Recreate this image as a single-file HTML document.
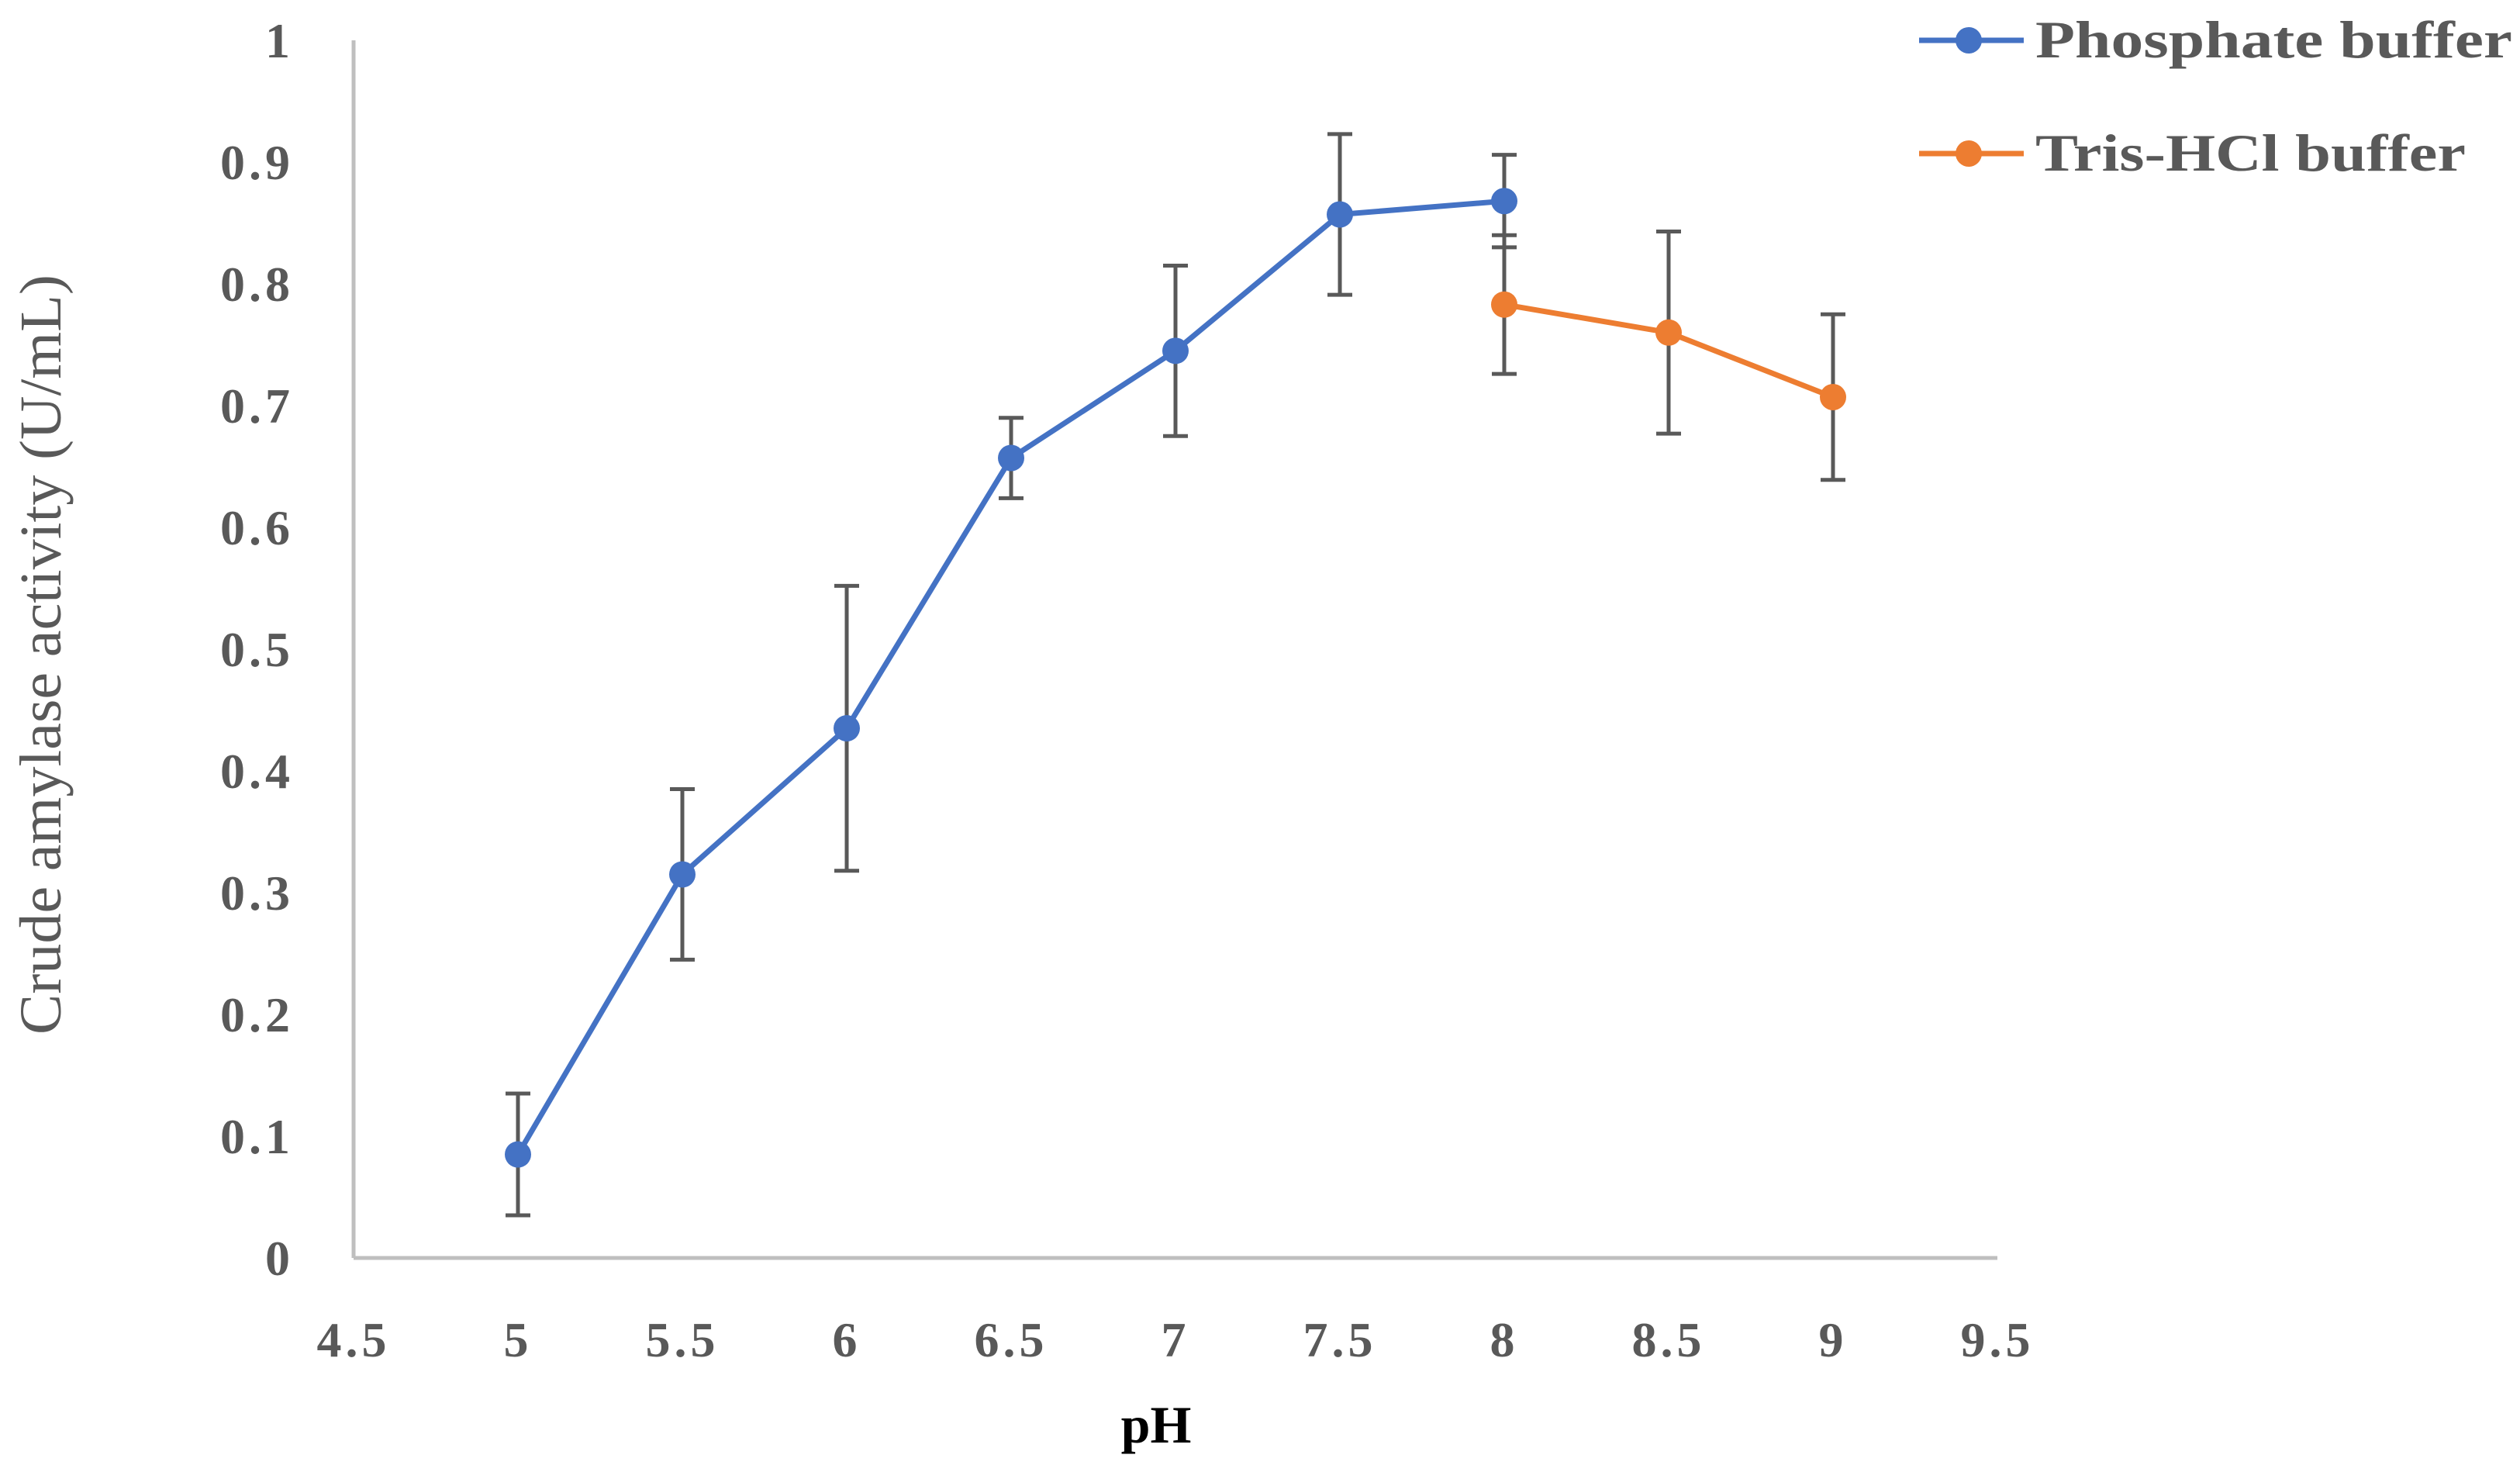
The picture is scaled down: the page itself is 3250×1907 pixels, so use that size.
<!DOCTYPE html>
<html><head><meta charset="utf-8"><style>
html,body{margin:0;padding:0;background:#fff;}
svg{display:block;}
</style></head><body>
<svg id="chart" width="3250" height="1907" viewBox="0 0 3250 1907" xmlns="http://www.w3.org/2000/svg">
<rect width="3250" height="1907" fill="#fff"/>
<g id="axes"></g>
<g id="series"></g>
<text x="1491" y="1860" text-anchor="middle" font-family="Liberation Serif, serif" font-weight="bold" font-size="68" fill="#000">pH</text>
<text transform="translate(78,844) rotate(-90)" text-anchor="middle" font-family="Liberation Serif, serif" font-size="76" fill="#595959" textLength="980" lengthAdjust="spacingAndGlyphs">Crude amylase activity (U/mL)</text>
<g>
 <g>
  <line x1="2475" y1="52" x2="2610" y2="52" stroke="#4472c4" stroke-width="7"/>
  <circle cx="2539" cy="52" r="17" fill="#4472c4"/>
  <text x="2625" y="74" font-family="Liberation Serif, serif" font-weight="bold" font-size="68" fill="#595959" textLength="615" lengthAdjust="spacingAndGlyphs">Phosphate buffer</text>
 </g>
 <g>
  <line x1="2475" y1="198" x2="2610" y2="198" stroke="#ed7d31" stroke-width="7"/>
  <circle cx="2539" cy="198" r="17" fill="#ed7d31"/>
  <text x="2625" y="220" font-family="Liberation Serif, serif" font-weight="bold" font-size="68" fill="#595959" textLength="555" lengthAdjust="spacingAndGlyphs">Tris-HCl buffer</text>
 </g>
</g>
</svg>
<script>
const xTicks = [4.5, 5, 5.5, 6, 6.5, 7, 7.5, 8, 8.5, 9, 9.5];
const yTicks = [0, 0.1, 0.2, 0.3, 0.4, 0.5, 0.6, 0.7, 0.8, 0.9, 1];
const yTickLabels = ["0","0.1","0.2","0.3","0.4","0.5","0.6","0.7","0.8","0.9","1"];
const phosX = [5, 5.5, 6, 6.5, 7, 7.5, 8];
const phosY = [0.085, 0.315, 0.435, 0.657, 0.745, 0.857, 0.868];
const phosErr = [0.05, 0.07, 0.117, 0.033, 0.07, 0.066, 0.038];
const trisX = [8, 8.5, 9];
const trisY = [0.783, 0.76, 0.707];
const trisErr = [0.057, 0.083, 0.068];

const NS = "http://www.w3.org/2000/svg";
const X0 = 456, X1 = 2576, Y0 = 1622, Y1 = 52;
function sx(v){ return X0 + (v - 4.5) / 5 * (X1 - X0); }
function sy(v){ return Y0 - v * (Y0 - Y1); }
function mk(tag, attrs, parent){ const e = document.createElementNS(NS, tag); for (const k in attrs) e.setAttribute(k, attrs[k]); parent.appendChild(e); return e; }

const axes = document.getElementById('axes');
const ya = mk('line', {x1:X0, y1:Y1, x2:X0, y2:Y0, stroke:'#bfbfbf', 'stroke-width':5}, axes);


const xa = mk('line', {x1:X0, y1:Y0, x2:X1, y2:Y0, stroke:'#bfbfbf', 'stroke-width':5}, axes);


yTicks.forEach((v, i) => {
  const t = mk('text', {x:379, y:sy(v)+22, 'text-anchor':'end', 'font-family':'Liberation Serif, serif', 'font-weight':'bold', 'font-size':64, fill:'#595959', 'letter-spacing':5}, axes);
  t.textContent = yTickLabels[i];
  
  
});
xTicks.forEach(v => {
  const t = mk('text', {x:sx(v), y:1749, 'text-anchor':'middle', 'font-family':'Liberation Serif, serif', 'font-weight':'bold', 'font-size':64, fill:'#595959', 'letter-spacing':5}, axes);
  t.textContent = String(v);
  
  
});

const series = document.getElementById('series');
function drawSeries(xs, ys, es, color, name){
  const g = mk('g', {}, series);
  
  
  const pts = xs.map((x, i) => sx(x) + ',' + sy(ys[i])).join(' ');
  const pl = mk('polyline', {points:pts, fill:'none', stroke:color, 'stroke-width':7, 'stroke-linejoin':'round'}, g);
  
  
  xs.forEach((x, i) => {
    const cx = sx(x), top = sy(ys[i] + es[i]), bot = sy(ys[i] - es[i]);
    const eb = mk('path', {d:`M${cx},${top}V${bot}M${cx-16},${top}H${cx+16}M${cx-16},${bot}H${cx+16}`, stroke:'#595959', 'stroke-width':5, fill:'none'}, g);
    
    
  });
  xs.forEach((x, i) => {
    const c = mk('circle', {cx:sx(x), cy:sy(ys[i]), r:17, fill:color}, g);
    
    
  });
}
drawSeries(phosX, phosY, phosErr, '#4472c4', 'phosphate');
drawSeries(trisX, trisY, trisErr, '#ed7d31', 'tris');
</script>
</body></html>
